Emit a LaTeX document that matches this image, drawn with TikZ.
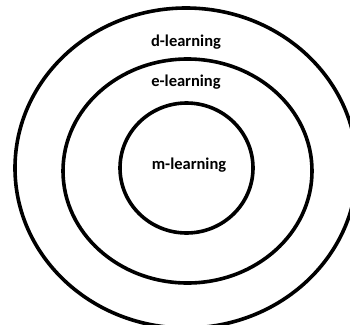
\documentclass[tikz,border=0pt]{standalone}
\usepackage{fontspec}
\setmainfont{Carlito}
\begin{document}
\begin{tikzpicture}[
    x=1pt, y=-1pt,
    anillo/.style={draw=black, line width=3.6pt},
    etiqueta/.style={font=\bfseries\fontsize{16.5}{19}\selectfont, inner sep=0pt}
  ]

    % --- Marco de la imagen ---
    \useasboundingbox (0,0) rectangle (350,324);

    % --- Anillos concéntricos ---
    \draw[anillo] (186,168) ellipse (171 and 160);  % exterior
    \draw[anillo] (187.5,171) ellipse (124.5 and 112); % medio
    \draw[anillo] (186.5,168) ellipse (66.5 and 65);  % interior

    % --- Etiquetas ---
    \node[etiqueta] (dlearn) at (186,42) {d-learning};
    \node[etiqueta] (elearn) at (186,82) {e-learning};
    \node[etiqueta] (mlearn) at (189,165) {m-learning};

  \end{tikzpicture}
\end{document}
